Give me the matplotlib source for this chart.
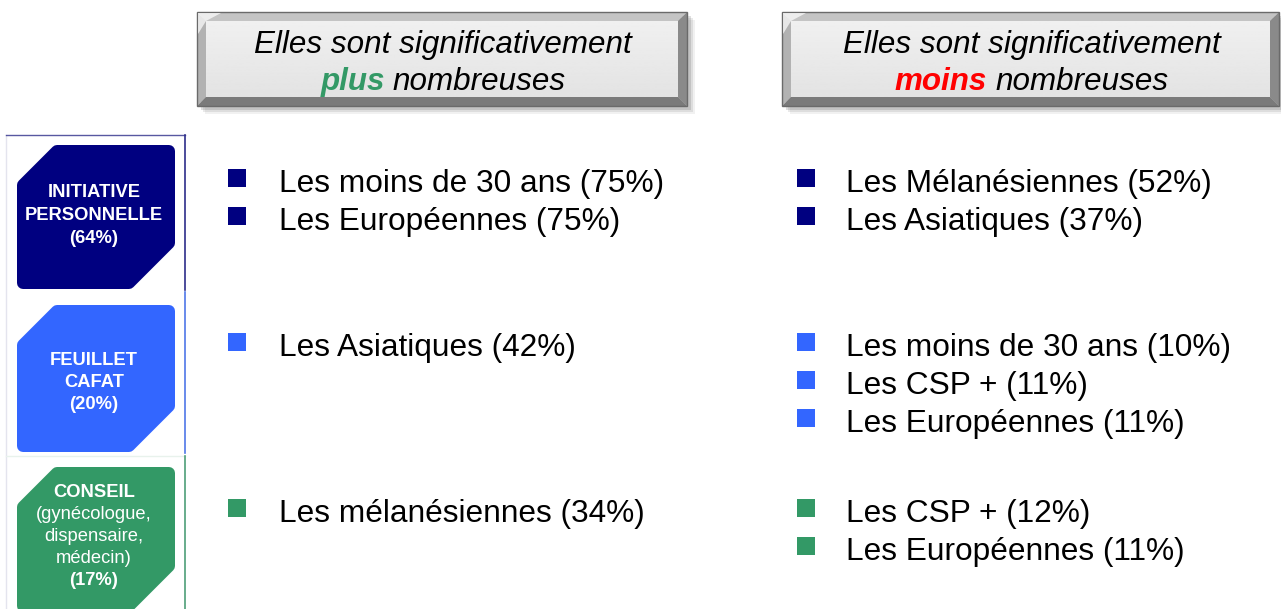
import matplotlib.pyplot as plt
from matplotlib.patches import Polygon, Rectangle
import numpy as np

plt.rcParams['font.family'] = ['Liberation Sans', 'DejaVu Sans']

# data
categories = [["INITIATIVE", "PERSONNELLE"], ["FEUILLET", "CAFAT"], ["CONSEIL"]]
details = [[], [], ["(gynécologue,", "dispensaire,", "médecin)"]]
shares = [64, 20, 17]
colors = ["#000080", "#3366FF", "#339966"]
frame_colors = ["#2E2E8A", "#4F77E8", "#4E9E78"]

plus_items = [["Les moins de 30 ans", "Les Européennes"],
              ["Les Asiatiques"],
              ["Les mélanésiennes"]]
plus_pct = [[75, 75], [42], [34]]
moins_items = [["Les Mélanésiennes", "Les Asiatiques"],
               ["Les moins de 30 ans", "Les CSP +", "Les Européennes"],
               ["Les CSP +", "Les Européennes"]]
moins_pct = [[52, 37], [10, 11, 11], [12, 11]]

headers = [("plus", "#339966"), ("moins", "#FF0000")]

# layout (pixels)
W, H = 1281, 609
row_top = [145, 305, 467]
row_bot = [289, 452, 612]
frame_top = [135, 292, 456]
frame_bot = [290, 453, 609]
box_base = [197, 365, 497]
item_base = [192, 356, 522]
header_x = [(197, 687), (782, 1279)]
col_sq = [228, 797]
col_txt = [279, 846]

fig = plt.figure(figsize=(W / 100, H / 100), dpi=100)
ax = fig.add_axes([0, 0, 1, 1])
ax.set_xlim(0, W)
ax.set_ylim(H, 0)
ax.axis('off')


def bevel_box(x0, x1, y0, y1, b=9):
    # soft shadow
    for k, a in [(8, 0.08), (6, 0.12), (4, 0.18)]:
        ax.add_patch(Rectangle((x0 + k, y0 + k), x1 - x0, y1 - y0,
                               color="#505050", alpha=a, lw=0, zorder=1))
    ax.add_patch(Polygon([(x0, y0), (x1, y0), (x1 - b, y0 + b), (x0 + b, y0 + b)],
                         closed=True, fc="#C4C4C4", ec="none", zorder=2))
    ax.add_patch(Polygon([(x0, y0), (x0 + b, y0 + b), (x0 + b, y1 - b), (x0, y1)],
                         closed=True, fc="#B2B2B2", ec="none", zorder=2))
    ax.add_patch(Polygon([(x1, y0), (x1, y1), (x1 - b, y1 - b), (x1 - b, y0 + b)],
                         closed=True, fc="#8A8A8A", ec="none", zorder=2))
    ax.add_patch(Polygon([(x0, y1), (x0 + b, y1 - b), (x1 - b, y1 - b), (x1, y1)],
                         closed=True, fc="#7A7A7A", ec="none", zorder=2))
    grad = np.linspace(0.94, 0.89, 50).reshape(-1, 1)
    ax.imshow(grad, cmap="gray", vmin=0, vmax=1, aspect="auto",
              extent=(x0 + b, x1 - b, y1 - b, y0 + b), zorder=3)
    ax.add_patch(Rectangle((x0, y0), x1 - x0, y1 - y0, fill=False,
                           ec="#6A6A6A", lw=1, zorder=4))
    ax.add_patch(Polygon([(x0 + 1, y0 + 1), (x0 + 24, y0 + 1), (x0 + b, y0 + b), (x0 + 1, y0 + 22)],
                         closed=True, fc="white", ec="none", alpha=0.7, zorder=4))


# header boxes
for (x0, x1), (word, wcol) in zip(header_x, headers):
    bevel_box(x0, x1, 12, 106)
    cx = (x0 + x1) / 2 + 1
    ax.text(cx, 53, "Elles sont significativement", ha="center", va="baseline",
            fontsize=22.6, style="italic", color="black", zorder=5)
    t1 = ax.text(0, 90, word, ha="left", va="baseline", fontsize=22.6,
                 style="italic", weight="bold", color=wcol, zorder=5)
    t2 = ax.text(0, 90, "nombreuses", ha="left", va="baseline", fontsize=22.6,
                 style="italic", color="black", zorder=5)
    fig.canvas.draw()
    rend = fig.canvas.get_renderer()
    w1 = t1.get_window_extent(rend).width
    w2 = t2.get_window_extent(rend).width
    gap = 8
    start = cx - (w1 + gap + w2) / 2
    t1.set_x(start)
    t2.set_x(start + w1 + gap)

# left frames
ax.plot([6, 6], [135, 609], color="#E4E4EE", lw=1, zorder=1)
ax.plot([6, 185], [135, 135], color=frame_colors[0], lw=1, alpha=0.8, zorder=1)
ax.plot([6, 185], [456, 456], color="#E8F2EC", lw=1, zorder=1)
for i in range(3):
    ax.plot([185, 185], [frame_top[i], frame_bot[i]], color=frame_colors[i], lw=1.2, zorder=1)

# category shapes
x0, x1 = 17, 175
for i in range(3):
    y0, y1 = row_top[i], row_bot[i]
    r = 6
    c1, c2 = 40, 46
    pts = [(x0 + r, y0 + c1), (x0 + c1, y0 + r), (x1 - r, y0 + r),
           (x1 - r, y1 - c2), (x1 - c2, y1 - r), (x0 + r, y1 - r)]
    ax.add_patch(Polygon(pts, closed=True, fc=colors[i], ec=colors[i],
                         lw=2 * r * 0.72, joinstyle="round", zorder=2))

    lines = [(s, "bold") for s in categories[i]] + [(s, "normal") for s in details[i]]
    lines.append(("(%d%%)" % shares[i], "bold"))
    step = 23 if i == 0 else 22
    for k, (s, wt) in enumerate(lines):
        ax.text(94, box_base[i] + k * step, s, ha="center", va="baseline",
                fontsize=13.2, weight=wt, color="white", zorder=3)

# bullet lists
for i in range(3):
    for col, (items, pcts) in enumerate([(plus_items[i], plus_pct[i]),
                                         (moins_items[i], moins_pct[i])]):
        for k, (s, p) in enumerate(zip(items, pcts)):
            yb = item_base[i] + k * 38
            ax.add_patch(Rectangle((col_sq[col], yb - 23), 18, 18,
                                   fc=colors[i], ec="none", zorder=2))
            ax.text(col_txt[col], yb, "%s (%d%%)" % (s, p), ha="left", va="baseline",
                    fontsize=22.8, color="black", zorder=3)

fig.savefig("out.png", dpi=100)
